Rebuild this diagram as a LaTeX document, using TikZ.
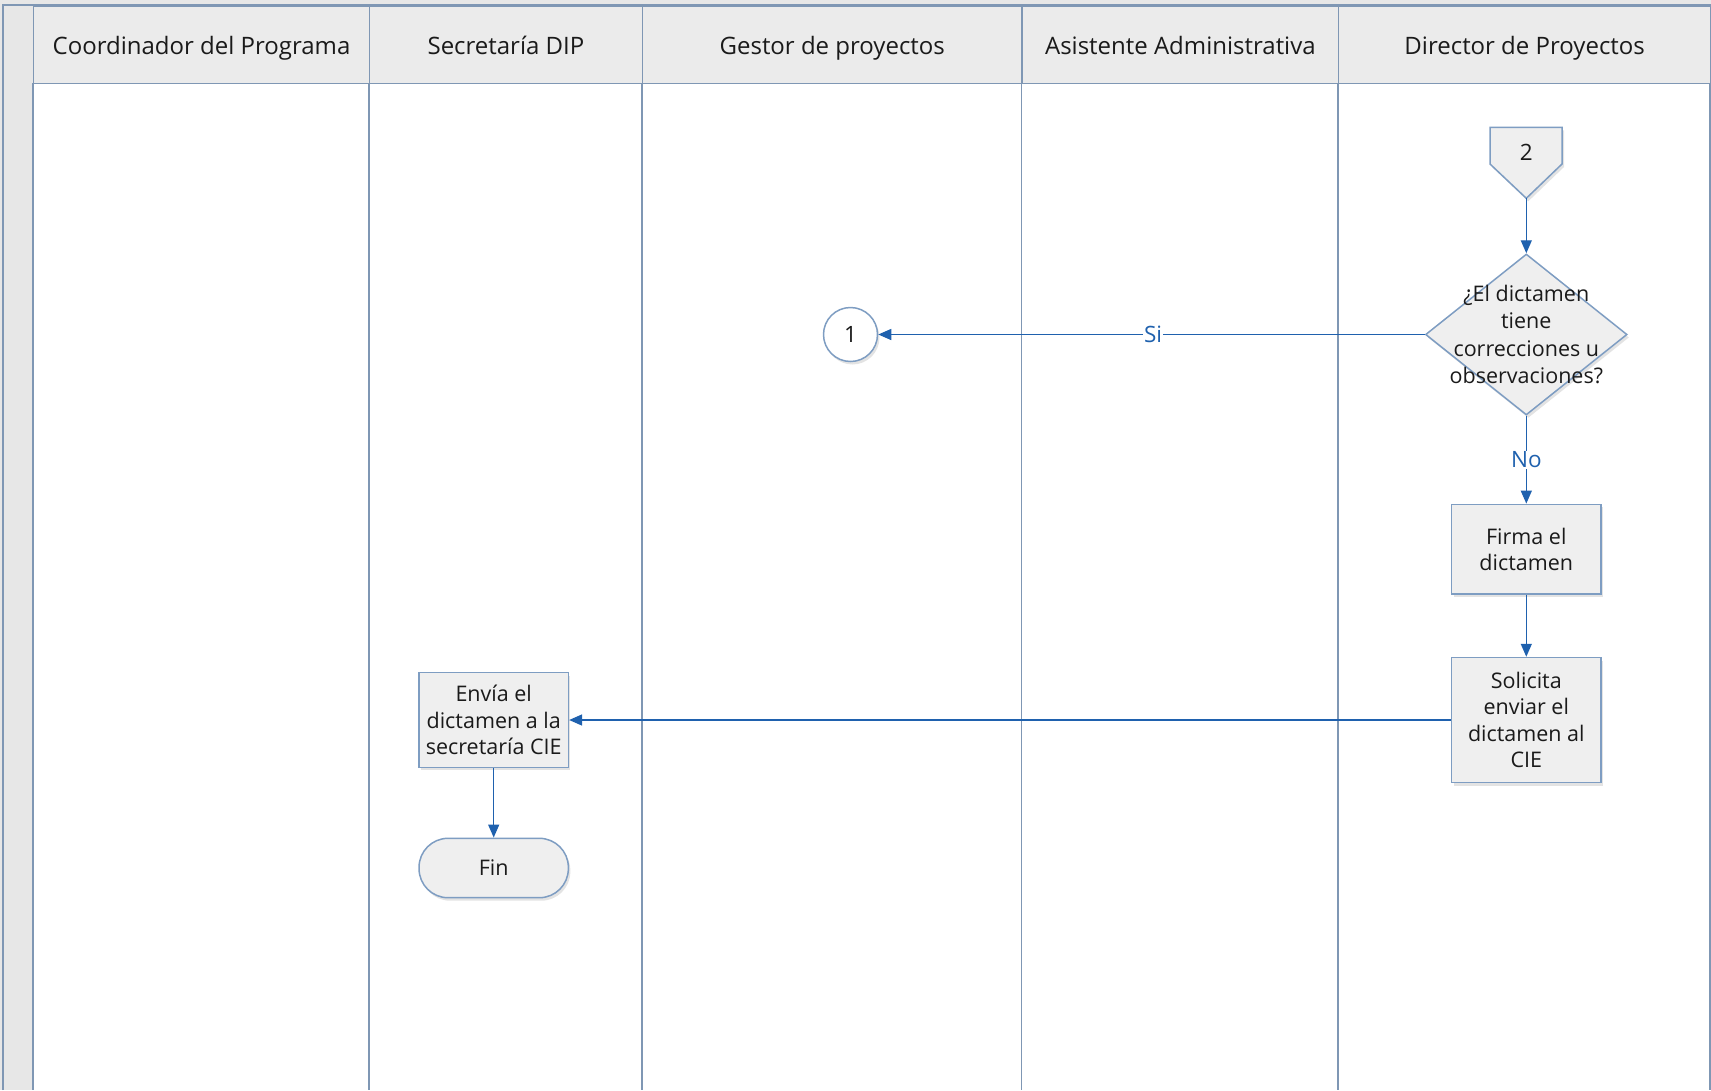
\documentclass[tikz,border=0pt]{standalone}
\usepackage{fontspec}
\setmainfont{Open Sans}
\usetikzlibrary{arrows.meta,shapes.geometric,shadows}
\definecolor{lanecol}{HTML}{7F97B4}
\definecolor{shapeborder}{HTML}{7E9DC2}
\definecolor{shapefill}{HTML}{EFEFEF}
\definecolor{headfill}{HTML}{EBEBEB}
\definecolor{stripfill}{HTML}{E7E7E7}
\definecolor{flowcol}{HTML}{1F61AE}
\definecolor{txt}{HTML}{1A1A1A}
\tikzset{
  lanehead/.style={draw=lanecol, line width=1.5pt, fill=headfill, text=txt,
    text height=19pt, text depth=0pt,
    font=\fontsize{24}{28}\selectfont},
  procbox/.style={draw=shapeborder, line width=1.5pt, fill=shapefill, text=txt,
    align=center, inner sep=0pt, font=\fontsize{21.5}{26.5}\selectfont,
    drop shadow={shadow xshift=2pt, shadow yshift=-3pt, opacity=0.22, fill=gray}},
  flow/.style={draw=flowcol, line width=1.4pt, -{Triangle[length=13pt,width=11pt]}},
  flowlabel/.style={text=flowcol, fill=white, inner sep=1pt, font=\fontsize{22.5}{26}\selectfont},
  plaintext/.style={text=txt, align=center, font=\fontsize{21.5}{27.5}\selectfont}
}
\begin{document}
\begin{tikzpicture}[x=1pt,y=-1pt]
\useasboundingbox (0,0) rectangle (1711,1090);
% pool strip
\fill[stripfill] (0,0) rectangle (1711,5);
\fill[stripfill] (0,0) rectangle (32.7,1090);
\draw[lanecol, line width=1.2pt] (3,1090) -- (3,5) -- (1711,5);
% lane headers
\node[lanehead, minimum width=336.1pt, minimum height=77.7pt, anchor=north west] (h1) at (32.7,5) {Coordinador del Programa};
\node[lanehead, minimum width=272.8pt, minimum height=77.7pt, anchor=north west] (h2) at (368.8,5) {Secretaría DIP};
\node[lanehead, minimum width=379.8pt, minimum height=77.7pt, anchor=north west] (h3) at (641.6,5) {Gestor de proyectos};
\node[lanehead, minimum width=316.4pt, minimum height=77.7pt, anchor=north west] (h4) at (1021.4,5) {Asistente Administrativa};
\node[lanehead, minimum width=372.2pt, minimum height=77.7pt, anchor=north west] (h5) at (1337.8,5) {Director de Proyectos};
% lane dividers
\foreach \x in {32.7,368.8,641.6,1021.4,1337.8,1710}
  \draw[lanecol, line width=1.8pt] (\x,82.7) -- (\x,1090);
% off-page connector 2
\filldraw[draw=shapeborder, line width=1.5pt, fill=shapefill,
  drop shadow={shadow xshift=2pt, shadow yshift=-3pt, opacity=0.22, fill=gray}]
  (1490,127.3) -- (1562,127.3) -- (1562,164) -- (1526.3,198.3) -- (1490,164) -- cycle;
\node[text=txt, font=\fontsize{22.5}{26}\selectfont] (c2) at (1526.3,152) {2};
\coordinate (c2tip) at (1526.3,198.3);
% decision
\node[diamond, draw=shapeborder, line width=1.5pt, fill=shapefill, minimum width=201.6pt,
  minimum height=161pt, inner sep=0pt,
  drop shadow={shadow xshift=2pt, shadow yshift=-3pt, opacity=0.22, fill=gray}] (dec) at (1526.3,334.5) {};
\node[plaintext] (dectext) at (1526.3,334.5) {¿El dictamen\\tiene\\correcciones u\\observaciones?};
% connector 1
\node[circle, draw=shapeborder, line width=1.5pt, fill=white, minimum size=54pt, inner sep=0pt,
  text=txt, font=\fontsize{22.5}{26}\selectfont,
  drop shadow={shadow xshift=2pt, shadow yshift=-3pt, opacity=0.22, fill=gray}] (c1) at (850.5,334.5) {1};
% process boxes
\node[procbox, minimum width=149.3pt, minimum height=89.7pt] (firma) at (1526.3,549.2) {Firma el\\dictamen};
\node[procbox, minimum width=149.3pt, minimum height=125pt] (solicita) at (1526.3,720) {Solicita\\enviar el\\dictamen al\\CIE};
\node[procbox, minimum width=149.3pt, minimum height=94.6pt] (envia) at (493.7,720) {Envía el\\dictamen a la\\secretaría CIE};
\node[procbox, rounded corners=29pt, minimum width=149.3pt, minimum height=59.4pt] (fin) at (493.7,868) {Fin};
% flows
\draw[flow] (c2tip) -- (dec.north);
\draw[flow] (dec.west) -- node[flowlabel, pos=0.497] (si) {Si} (c1.east);
\draw[flow] (dec.south) -- node[flowlabel, pos=0.5] (no) {No} (firma.north);
\draw[flow] (firma.south) -- (solicita.north);
\draw[flow] (solicita.west) -- (envia.east);
\draw[flow] (envia.south) -- (fin.north);
\end{tikzpicture}
\end{document}
